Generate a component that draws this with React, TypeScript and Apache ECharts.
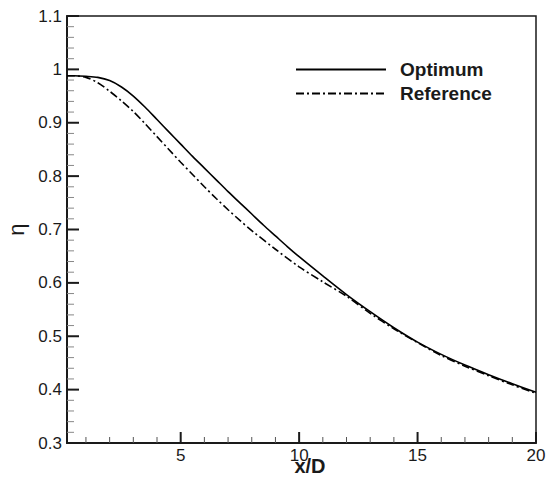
import React, { useEffect, useRef } from "react";
import * as echarts from "echarts";

const optimumX = [0.2, 0.5, 1.0, 1.5, 2.0, 2.5, 3.0, 3.5, 4.0, 4.5, 5.0, 5.5, 6.0, 6.5, 7.0, 7.5, 8.0, 8.5, 9.0, 9.5, 10.0, 11.0, 12.0, 13.0, 14.0, 15.0, 16.0, 17.0, 18.0, 19.0, 20.0];
const optimumY = [0.988, 0.988, 0.987, 0.985, 0.979, 0.967, 0.950, 0.929, 0.906, 0.883, 0.860, 0.837, 0.815, 0.793, 0.771, 0.750, 0.729, 0.708, 0.688, 0.668, 0.649, 0.613, 0.578, 0.546, 0.516, 0.489, 0.466, 0.446, 0.428, 0.411, 0.395];

const referenceX = [0.2, 0.5, 1.0, 1.5, 2.0, 2.5, 3.0, 3.5, 4.0, 4.5, 5.0, 5.5, 6.0, 6.5, 7.0, 7.5, 8.0, 9.0, 10.0, 11.0, 12.0, 13.0, 14.0, 15.0, 16.0, 17.0, 18.0, 19.0, 20.0];
const referenceY = [0.988, 0.988, 0.985, 0.975, 0.959, 0.941, 0.921, 0.898, 0.874, 0.850, 0.826, 0.803, 0.780, 0.758, 0.737, 0.717, 0.698, 0.663, 0.630, 0.602, 0.575, 0.543, 0.514, 0.488, 0.464, 0.444, 0.426, 0.409, 0.393];

const xMajorTicks = [5, 10, 15, 20];
const xMinorTicks = [1, 2, 3, 4, 6, 7, 8, 9, 11, 12, 13, 14, 16, 17, 18, 19];
const yMajorTicks = [0.3, 0.4, 0.5, 0.6, 0.7, 0.8, 0.9, 1.0, 1.1];
const yMinorTicks = [
  0.32, 0.34, 0.36, 0.38, 0.42, 0.44, 0.46, 0.48, 0.52, 0.54, 0.56, 0.58,
  0.62, 0.64, 0.66, 0.68, 0.72, 0.74, 0.76, 0.78, 0.82, 0.84, 0.86, 0.88,
  0.92, 0.94, 0.96, 0.98, 1.02, 1.04, 1.06, 1.08,
];

const seriesNames = ["Optimum", "Reference"];
const xTitle = "x/D";
const yTitle = "η";

const X_MIN = 0.2;
const X_MAX = 20;
const Y_MIN = 0.3;
const Y_MAX = 1.1;

const FONT = "Liberation Sans, Arial, sans-serif";
const INK = "#1a1a1a";

export default function App() {
  const ref = useRef<HTMLDivElement>(null);
  useEffect(() => {
    if (!ref.current) return;
    const chart = echarts.init(ref.current, undefined, { renderer: "svg" });
    const pair = (xs: number[], ys: number[]) => xs.map((x, i) => [x, ys[i]]);
    // tick marks as in-range points: [x, y, kind]; kind 0 = y major, 1 = y minor, 2 = x major, 3 = x minor
    const tickData = [
      ...yMajorTicks.map((v) => [X_MIN, v, 0]),
      ...yMinorTicks.map((v) => [X_MIN, v, 1]),
      ...xMajorTicks.map((v) => [v, Y_MIN, 2]),
      ...xMinorTicks.map((v) => [v, Y_MIN, 3]),
    ];
    chart.setOption({
      animation: false,
      backgroundColor: "#ffffff",
      grid: {
        left: 67,
        top: 16,
        right: 16,
        bottom: 39,
        show: true,
        borderColor: INK,
        borderWidth: 1.5,
        containLabel: false,
        outerBoundsMode: "none",
      },
      legend: {
        orient: "vertical",
        left: 295,
        top: 60,
        padding: 0,
        itemWidth: 90,
        itemHeight: 14,
        itemGap: 5,
        itemStyle: { opacity: 0 },
        data: seriesNames,
        textStyle: {
          fontFamily: FONT,
          fontWeight: "bold",
          fontSize: 19,
          color: INK,
          padding: [0, 0, 0, 9],
        },
      },
      xAxis: {
        type: "value",
        min: X_MIN,
        max: X_MAX,
        position: "bottom",
        name: xTitle,
        nameLocation: "middle",
        nameGap: 13,
        nameMoveOverlap: false,
        nameTextStyle: { fontFamily: FONT, fontWeight: "bold", fontSize: 20, color: INK, padding: [0, 0, 0, 17] },
        axisLine: { show: true, onZero: false, lineStyle: { color: INK, width: 2 } },
        axisTick: { show: false },
        axisLabel: { show: true, customValues: xMajorTicks, margin: 4, fontFamily: FONT, fontSize: 17, color: INK },
        splitLine: { show: false },
      },
      yAxis: {
        type: "value",
        min: Y_MIN,
        max: Y_MAX,
        interval: 0.1,
        name: yTitle,
        nameLocation: "middle",
        nameGap: 38,
        nameRotate: 90,
        nameTextStyle: { fontFamily: FONT, fontSize: 22, color: INK },
        axisLine: { show: true, onZero: false, lineStyle: { color: INK, width: 2 } },
        axisTick: { show: false },
        minorTick: { show: false },
        axisLabel: { margin: 5, fontFamily: FONT, fontSize: 17, color: INK },
        splitLine: { show: false },
      },
      series: [
        {
          name: seriesNames[0],
          type: "line",
          data: pair(optimumX, optimumY),
          smooth: 0.3,
          symbol: "none",
          lineStyle: { color: "#000", width: 1.6, type: "solid" },
          itemStyle: { color: "#000" },
          z: 3,
        },
        {
          name: seriesNames[1],
          type: "line",
          data: pair(referenceX, referenceY),
          smooth: 0.3,
          symbol: "none",
          lineStyle: { color: "#000", width: 1.6, type: [8, 3, 2, 3] },
          itemStyle: { color: "#000" },
          z: 3,
        },
        {
          name: "ticks",
          type: "custom",
          silent: true,
          clip: false,
          z: 4,
          encode: { x: 0, y: 1 },
          data: tickData,
          renderItem: (_params: any, api: any) => {
            const x = api.value(0);
            const y = api.value(1);
            const kind = api.value(2);
            const p = api.coord([x, y]);
            if (kind < 2) {
              const len = kind === 0 ? 12 : 7;
              return {
                type: "line",
                shape: { x1: p[0], y1: p[1], x2: p[0] + len, y2: p[1] },
                style: { stroke: kind === 0 ? INK : "#888", lineWidth: kind === 0 ? 2 : 1 },
              };
            }
            const len = kind === 2 ? 11 : 6;
            return {
              type: "line",
              shape: { x1: p[0], y1: p[1], x2: p[0], y2: p[1] - len },
              style: { stroke: kind === 2 ? INK : "#555", lineWidth: kind === 2 ? 2 : 1 },
            };
          },
        },
      ],
    });
    return () => chart.dispose();
  }, []);
  return (
    <div
      ref={ref}
      style={{ position: "fixed", left: 0, top: 0, width: 552, height: 482, background: "#fff" }}
    />
  );
}
